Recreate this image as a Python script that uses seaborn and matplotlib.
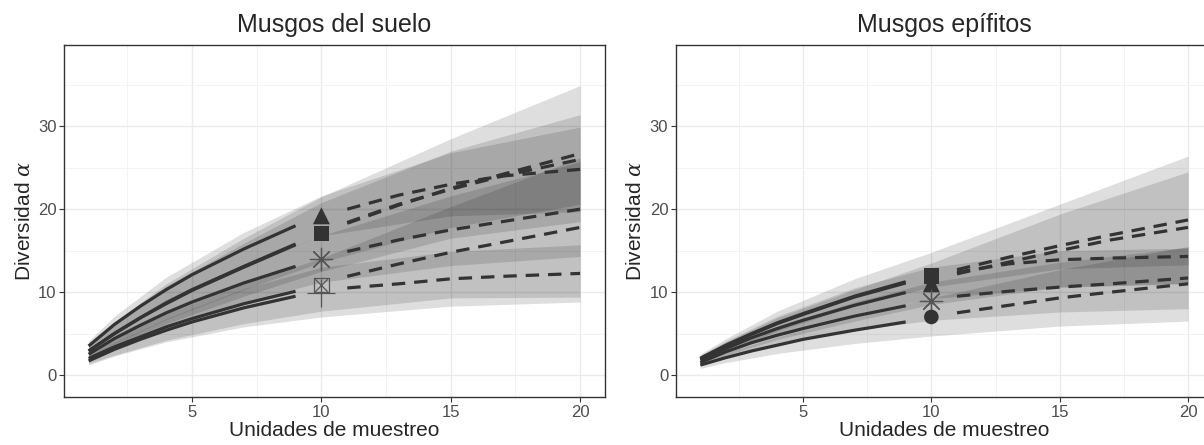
import matplotlib
matplotlib.use('Agg')
import matplotlib.pyplot as plt
import seaborn as sns
import pandas as pd
import numpy as np

# sampling units
t_rare = [1, 2, 3, 4, 5, 7, 9]
t_obs = 10
t_ext = [11, 13, 15, 17, 20]
t_band = [1, 2, 4, 7, 10, 15, 20]

# Musgos del suelo (6 assemblages)
suelo_shapes = ['tri', 'sq', 'ast', 'boxx', 'plus', 'sq']
suelo_rare = [[3.5, 6.1, 8.3, 10.3, 12.1, 15.2, 18.0],
              [2.9, 5.0, 6.9, 8.6, 10.2, 13.0, 15.7],
              [2.5, 4.4, 6.0, 7.5, 8.8, 11.1, 13.1],
              [2.0, 3.4, 4.6, 5.8, 6.8, 8.6, 10.1],
              [1.7, 3.1, 4.3, 5.4, 6.4, 8.1, 9.5],
              [2.9, 5.0, 6.9, 8.7, 10.3, 13.1, 15.8]]
suelo_obs = [19.2, 17.0, 14.0, 10.9, 9.95, 17.1]
suelo_ext = [[20.0, 21.7, 23.0, 24.0, 24.8],
             [18.3, 20.5, 22.5, 24.2, 26.7],
             [14.9, 16.3, 17.5, 18.5, 20.0],
             [11.9, 13.4, 14.8, 16.0, 17.8],
             [10.5, 11.0, 11.6, 11.9, 12.25],
             [18.4, 20.6, 22.4, 24.0, 26.0]]
suelo_lo = [[2.9, 5.1, 8.8, 13.2, 16.8, 19.2, 19.7],
            [2.1, 3.6, 6.2, 9.5, 12.5, 16.5, 18.5],
            [1.9, 3.4, 5.9, 8.9, 11.2, 13.2, 14.3],
            [1.4, 2.4, 4.2, 6.2, 7.7, 9.3, 9.4],
            [1.2, 2.3, 4.0, 5.8, 7.0, 8.3, 8.8],
            [2.2, 3.8, 6.7, 10.3, 13.6, 17.8, 20.6]]
suelo_hi = [[4.1, 7.1, 11.8, 17.2, 21.6, 26.8, 29.9],
            [3.7, 6.4, 11.0, 16.5, 21.5, 28.5, 34.9],
            [3.1, 5.4, 9.1, 13.3, 16.8, 21.6, 25.7],
            [2.6, 4.4, 7.4, 11.0, 14.1, 20.3, 26.2],
            [2.2, 3.9, 6.8, 10.4, 13.0, 14.9, 15.7],
            [3.6, 6.2, 10.7, 15.9, 20.8, 27.0, 31.4]]

# Musgos epifitos (5 assemblages)
epif_shapes = ['sq', 'tri', 'ast', 'circ', 'sq']
epif_rare = [[2.0, 3.6, 5.0, 6.3, 7.4, 9.5, 11.25],
             [1.8, 3.2, 4.5, 5.6, 6.6, 8.4, 9.95],
             [1.5, 2.8, 3.9, 4.8, 5.6, 7.1, 8.35],
             [1.2, 2.1, 2.9, 3.6, 4.3, 5.4, 6.4],
             [2.0, 3.5, 4.9, 6.2, 7.3, 9.4, 11.1]]
epif_obs = [12.0, 11.0, 8.9, 7.0, 11.8]
epif_ext = [[12.7, 14.2, 15.6, 16.9, 18.7],
            [12.2, 13.6, 15.0, 16.3, 17.8],
            [9.5, 10.1, 10.6, 11.0, 11.7],
            [7.5, 8.4, 9.3, 10.0, 11.0],
            [12.4, 13.4, 13.9, 14.1, 14.3]]
epif_lo = [[1.5, 2.8, 4.9, 7.4, 9.2, 10.6, 11.0],
           [1.3, 2.4, 4.3, 6.5, 8.5, 10.6, 11.1],
           [1.1, 2.1, 3.7, 5.4, 6.6, 7.6, 8.0],
           [0.8, 1.5, 2.6, 3.8, 4.7, 5.9, 6.5],
           [1.6, 2.9, 5.3, 8.3, 10.6, 12.8, 13.3]]
epif_hi = [[2.5, 4.4, 7.7, 11.6, 14.8, 20.6, 26.4],
           [2.3, 4.0, 6.9, 10.3, 13.5, 19.4, 24.5],
           [1.9, 3.5, 5.9, 8.8, 11.2, 13.6, 15.4],
           [1.6, 2.7, 4.6, 7.0, 9.3, 12.7, 15.5],
           [2.4, 4.1, 7.1, 10.5, 13.0, 15.0, 15.3]]

sns.set_style('white')
plt.rcParams['font.family'] = ['Liberation Sans', 'DejaVu Sans']
plt.rcParams['mathtext.fontset'] = 'dejavuserif'

line_col = '#333333'
marker_kw = {
    'tri': dict(marker='^', s=150, color=line_col, edgecolor='none'),
    'sq': dict(marker='s', s=110, color=line_col, edgecolor='none'),
    'circ': dict(marker='o', s=110, color=line_col, edgecolor='none'),
    'ast': dict(marker=(8, 2, 0), s=260, color='#555555', linewidth=0.9),
    'plus': dict(marker='+', s=380, color='#555555', linewidth=0.9),
}


def draw_panel(ax, title, shapes, rare, obs, ext, lo, hi):
    for l, h in zip(lo, hi):
        ax.fill_between(t_band, l, h, color='black', alpha=0.13, lw=0, zorder=1)

    rare_df = pd.DataFrame([(i, t, q) for i, r in enumerate(rare) for t, q in zip(t_rare, r)],
                           columns=['site', 't', 'q'])
    ext_df = pd.DataFrame([(i, t, q) for i, r in enumerate(ext) for t, q in zip(t_ext, r)],
                          columns=['site', 't', 'q'])
    n0 = len(ax.lines)
    sns.lineplot(data=rare_df, x='t', y='q', units='site', estimator=None,
                 color=line_col, linewidth=2.3, ax=ax, zorder=3)
    n1 = len(ax.lines)
    sns.lineplot(data=ext_df, x='t', y='q', units='site', estimator=None,
                 color=line_col, linewidth=2.3, ax=ax, zorder=3)
    for ln in ax.lines[n0:n1]:
        ln.set_solid_capstyle('butt')
    for ln in ax.lines[n1:]:
        ln.set_dashes((4.2, 2.8))
        ln.set_dash_capstyle('butt')

    for shp, y in zip(shapes, obs):
        if shp == 'boxx':
            sns.scatterplot(x=[t_obs], y=[y], marker='s', s=105, facecolor='none',
                            edgecolor='#555555', linewidth=0.9, ax=ax, zorder=4)
            sns.scatterplot(x=[t_obs], y=[y], marker='x', s=80, color='#555555',
                            linewidth=0.9, ax=ax, zorder=4)
        else:
            sns.scatterplot(x=[t_obs], y=[y], ax=ax, zorder=4, **marker_kw[shp])

    ax.set_xlim(0.05, 20.95)
    ax.set_ylim(-2.65, 39.8)
    ax.set_xticks([5, 10, 15, 20])
    ax.set_xticks([2.5, 7.5, 12.5, 17.5], minor=True)
    ax.set_yticks([0, 10, 20, 30])
    ax.set_yticks([5, 15, 25, 35], minor=True)
    ax.grid(which='major', color='#EBEBEB', linewidth=1.0, zorder=0)
    ax.grid(which='minor', color='#F3F3F3', linewidth=0.7, zorder=0)
    ax.set_axisbelow(True)
    for sp in ax.spines.values():
        sp.set_color('#333333')
        sp.set_linewidth(1.0)
    ax.tick_params(which='major', length=3.5, width=0.8, color='#333333',
                   labelsize=12, labelcolor='#4D4D4D', left=True, bottom=True, pad=2)
    ax.tick_params(which='minor', length=0)
    ax.set_xlabel('Unidades de muestreo', fontsize=15, labelpad=1)
    ax.set_ylabel('Diversidad $\\alpha$', fontsize=15, labelpad=3)
    ax.set_title(title, fontsize=18, pad=9)


fig = plt.figure(figsize=(12.04, 4.45), dpi=100)
ax1 = fig.add_axes([0.0532, 0.1079, 0.449, 0.791])
ax2 = fig.add_axes([0.5614, 0.1079, 0.4456, 0.791])

draw_panel(ax1, 'Musgos del suelo', suelo_shapes, suelo_rare, suelo_obs, suelo_ext, suelo_lo, suelo_hi)
draw_panel(ax2, 'Musgos epífitos', epif_shapes, epif_rare, epif_obs, epif_ext, epif_lo, epif_hi)

fig.savefig('out.png', dpi=100)
